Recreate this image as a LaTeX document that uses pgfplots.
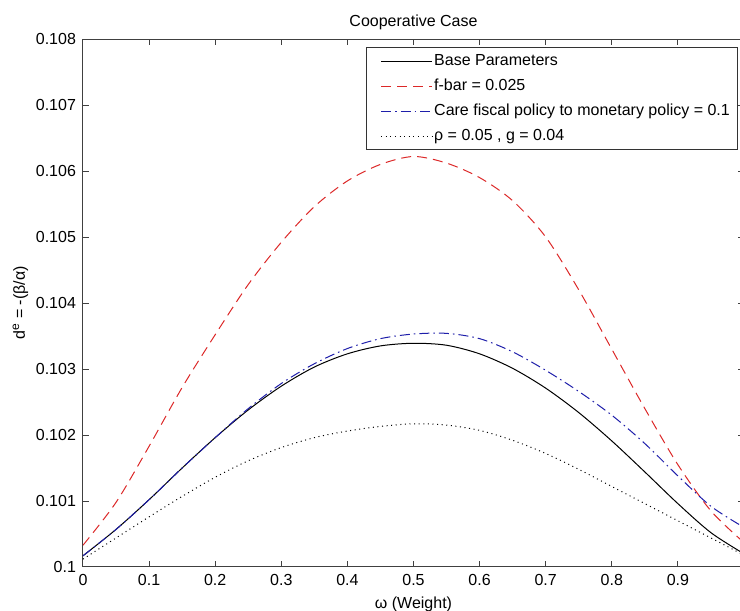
\documentclass[border=0pt]{standalone}
\usepackage{pgfplots}
\pgfplotsset{compat=1.18}
\usepackage{fontspec}
\setmainfont{Liberation Sans}
\newcommand\f{\fontsize{8}{9.6}\selectfont}
\definecolor{mred}{RGB}{220,40,40}
\definecolor{mblue}{RGB}{30,30,170}
\begin{document}
\begin{tikzpicture}
\useasboundingbox (0,0) rectangle (370pt,305.5pt);
\begin{axis}[
  at={(41.5pt,22pt)}, anchor=south west,
  scale only axis, width=330.5pt, height=264pt,
  xmin=0, xmax=1, ymin=0.1, ymax=0.108,
  xtick={0,0.1,0.2,0.3,0.4,0.5,0.6,0.7,0.8,0.9},
  xticklabels={0,0.1,0.2,0.3,0.4,0.5,0.6,0.7,0.8,0.9},
  ytick={0.1,0.101,0.102,0.103,0.104,0.105,0.106,0.107,0.108},
  yticklabels={0.1,0.101,0.102,0.103,0.104,0.105,0.106,0.107,0.108},
  scaled ticks=false,
  /pgf/number format/assume math mode=true,
  tick align=inside, tick pos=both, major tick length=3pt,
  axis line style={black!75, line width=0.5pt},
  every tick/.style={black!75, line width=0.5pt},
  tick label style={font=\f},
  title={Cooperative Case}, title style={font=\f, at={(0.5,1)}, anchor=south, yshift=-5pt},
  xlabel={ω (Weight)}, xlabel style={font=\f, yshift=1pt},
  ylabel={d\textsuperscript{e} = -(β/α)}, ylabel style={font=\f, yshift=-3pt},
  legend style={at={(0.9909,0.9848)}, anchor=north east, font=\f,
    draw=black!80, line width=0.5pt, inner xsep=3pt, inner ysep=0.5pt,
    row sep=0pt, nodes={inner xsep=0.8pt, inner ysep=2.5pt, text height=6pt, text depth=1.5pt}},
  legend cell align=left,
  legend image code/.code={\path (-4pt,0pt); \draw[#1] (0pt,0pt) -- (25.5pt,0pt);},
]
\addplot[black, line width=0.5pt, smooth] coordinates {
(0,0.10017) (0.05,0.10057) (0.1,0.10102) (0.15,0.10150) (0.2,0.10196)
(0.25,0.10238) (0.3,0.10274) (0.35,0.10303) (0.4,0.10323) (0.45,0.10335)
(0.5,0.10339) (0.55,0.10336) (0.6,0.10323) (0.65,0.10301) (0.7,0.10271)
(0.75,0.10234) (0.8,0.10191) (0.85,0.10144) (0.9,0.10096) (0.95,0.10052) (1,0.10020)};
\addlegendentry{Base Parameters}
\addplot[mred, line width=0.5pt, smooth, dash pattern=on 5pt off 3pt] coordinates {
(0,0.10033) (0.05,0.10098) (0.1,0.10183) (0.15,0.10272) (0.2,0.10352)
(0.25,0.10428) (0.3,0.10492) (0.35,0.10546) (0.4,0.10585) (0.45,0.10610)
(0.5,0.10622) (0.55,0.10612) (0.6,0.10590) (0.65,0.10555) (0.7,0.10500)
(0.75,0.10420) (0.8,0.10330) (0.85,0.10240) (0.9,0.10155) (0.95,0.10085) (1,0.10037)};
\addlegendentry{f-bar = 0.025}
\addplot[mblue, line width=0.5pt, smooth, dash pattern=on 5pt off 2pt on 0.8pt off 2pt] coordinates {
(0,0.10017) (0.05,0.10057) (0.1,0.10102) (0.15,0.10150) (0.2,0.10196)
(0.25,0.10240) (0.3,0.10278) (0.35,0.10308) (0.4,0.10331) (0.45,0.10346)
(0.5,0.10353) (0.55,0.10354) (0.6,0.10346) (0.65,0.10326) (0.7,0.10298)
(0.75,0.10266) (0.8,0.10230) (0.85,0.10187) (0.9,0.10138) (0.95,0.10092) (1,0.10060)};
\addlegendentry{Care fiscal policy to monetary policy = 0.1}
\addplot[black, line width=0.5pt, smooth, dash pattern=on 0.5pt off 1.8pt] coordinates {
(0,0.10012) (0.05,0.10044) (0.1,0.10076) (0.15,0.10107) (0.2,0.10136)
(0.25,0.10161) (0.3,0.10181) (0.35,0.10196) (0.4,0.10206) (0.45,0.10213)
(0.5,0.10217) (0.55,0.10215) (0.6,0.10207) (0.65,0.10192) (0.7,0.10172)
(0.75,0.10148) (0.8,0.10122) (0.85,0.10096) (0.9,0.10070) (0.95,0.10044) (1,0.10018)};
\addlegendentry{ρ = 0.05 , g = 0.04}
\end{axis}
\end{tikzpicture}
\end{document}
